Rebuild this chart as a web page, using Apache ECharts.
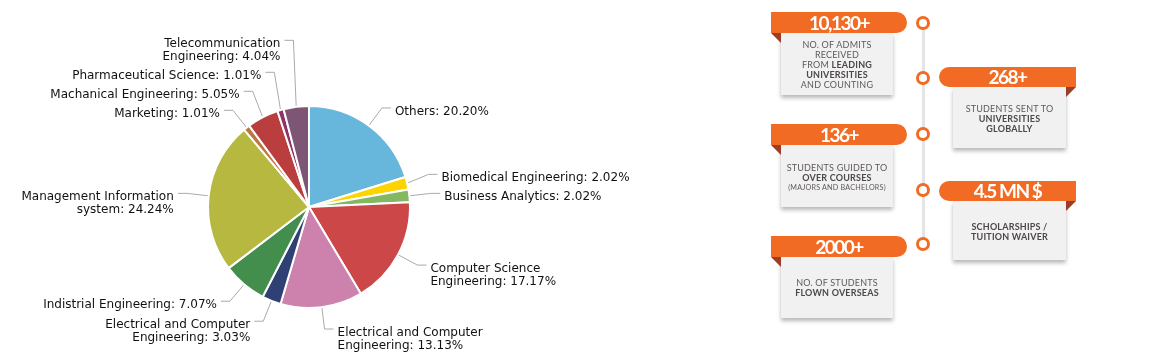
<!DOCTYPE html>
<html>
<head>
<meta charset="utf-8">
<script src="https://cdn.jsdelivr.net/npm/echarts@6/dist/echarts.min.js"></script>
<style>
  html, body { margin: 0; padding: 0; background: #fff; }
  #wrap { position: relative; width: 1155px; height: 363px; overflow: hidden; }
  #chart { position: absolute; left: 0; top: 0; width: 1155px; height: 363px; }
  .line { position: absolute; left: 922px; top: 23px; width: 3px; height: 222px; background: #e4e4e4; }
  .dot { position: absolute; width: 8px; height: 8px; border: 3px solid #f26b24; border-radius: 50%; background: #fff; }
  .banner { position: absolute; height: 21px; background: #f26b24; color: #fff; font-family: Lato, sans-serif; font-weight: 700; font-size: 19px; line-height: 21px; text-align: center; letter-spacing: -1.5px; }
  .banner.l { border-radius: 0 11px 11px 0; }
  .banner.r { border-radius: 11px 0 0 11px; }
  .card { position: absolute; box-sizing: border-box; background: #f1f1f2; box-shadow: 0 3px 4px rgba(0,0,0,0.28); display: flex; flex-direction: column; justify-content: center; align-items: center; font-family: Lato, sans-serif; font-size: 9px; line-height: 10px; color: #5e595a; text-align: center; letter-spacing: 0.2px; }
  .card.p { padding-top: 3px; }
  .card b { color: #4d4849; font-weight: 700; }
  .card .sm { font-size: 7.2px; }
  .fold { position: absolute; width: 0; height: 0; }
  .fold.l { border-top: 10px solid #9e3d27; border-left: 10px solid transparent; }
  .fold.r { border-top: 10px solid #9e3d27; border-right: 10px solid transparent; }
</style>
</head>
<body>
<div id="wrap">
  <div id="chart"></div>

  <div class="line"></div>
  <div class="dot" style="left:916px;top:16px"></div>
  <div class="dot" style="left:916px;top:71px"></div>
  <div class="dot" style="left:916px;top:127px"></div>
  <div class="dot" style="left:916px;top:183px"></div>
  <div class="dot" style="left:916px;top:237px"></div>

  <div class="card" style="left:781px;top:33px;width:112px;height:62px;padding-top:1px">
    <div>NO. OF ADMITS</div><div>RECEIVED</div><div>FROM <b>LEADING</b></div><div><b>UNIVERSITIES</b></div><div>AND COUNTING</div>
  </div>
  <div class="banner l" style="left:771px;top:12px;width:136px">10,130+</div>
  <div class="fold l" style="left:771px;top:33px"></div>

  <div class="card p" style="left:953px;top:87px;width:113px;height:61px">
    <div>STUDENTS SENT TO</div><div><b>UNIVERSITIES</b></div><div><b>GLOBALLY</b></div>
  </div>
  <div class="banner r" style="left:939px;top:67px;width:137px;height:20px;line-height:20px">268+</div>
  <div class="fold r" style="left:1066px;top:87px"></div>

  <div class="card p" style="left:781px;top:145px;width:112px;height:62px">
    <div>STUDENTS GUIDED TO</div><div><b>OVER COURSES</b></div><div class="sm">(MAJORS AND BACHELORS)</div>
  </div>
  <div class="banner l" style="left:771px;top:124px;width:136px">136+</div>
  <div class="fold l" style="left:771px;top:145px"></div>

  <div class="card p" style="left:953px;top:201px;width:113px;height:59px">
    <div><b>SCHOLARSHIPS /</b></div><div><b>TUITION WAIVER</b></div>
  </div>
  <div class="banner r" style="left:939px;top:181px;width:137px;height:20px;line-height:20px">4.5 MN $</div>
  <div class="fold r" style="left:1066px;top:201px"></div>

  <div class="card" style="left:781px;top:257px;width:112px;height:61px">
    <div>NO. OF STUDENTS</div><div><b>FLOWN OVERSEAS</b></div>
  </div>
  <div class="banner l" style="left:771px;top:236px;width:136px">2000+</div>
  <div class="fold l" style="left:771px;top:257px"></div>
</div>
<script>
const categories = [
  "Others",
  "Biomedical Engineering",
  "Business Analytics",
  "Computer Science Engineering",
  "Electrical and Computer Engineering",
  "Electrical and Computer Engineering",
  "Indistrial Engineering",
  "Management Information system",
  "Marketing",
  "Machanical Engineering",
  "Pharmaceutical Science",
  "Telecommunication Engineering"
];
const counts = [20, 2, 2, 17, 13, 3, 7, 24, 1, 5, 1, 4];
const colors = ["#67b7dc", "#fdd400", "#84b761", "#cc4748", "#cd82ad", "#2f4074",
                "#448e4d", "#b7b83f", "#b9783f", "#b93e3d", "#913167", "#7d5676"];

const total = counts.reduce((a, b) => a + b, 0);
const data = categories.map((n, i) => ({ name: n, value: counts[i], itemStyle: { color: colors[i] } }));

function labelText(name, value) {
  const pct = (value / total * 100).toFixed(2) + '%';
  const full = name + ': ' + pct;
  if (full.length > 32) {
    const k = name.lastIndexOf(' ');
    return name.slice(0, k) + '\n' + name.slice(k + 1) + ': ' + pct;
  }
  return full;
}

// pie geometry (layout settings)
const CX = 309, CY = 207, R = 101;
const LEN1 = 22, LEN2 = 9, TEXT_GAP = 4, LH = 13, PADV = 3, TEXT_DY = 4;

// label placement computed from the data: upper labels stack upward, lower labels stack downward
const place = (function () {
  let acc = 0;
  const items = counts.map((v, i) => {
    const a0 = acc / total * 2 * Math.PI; acc += v;
    const a1 = acc / total * 2 * Math.PI;
    const m = (a0 + a1) / 2;
    const s = Math.sin(m), c = Math.cos(m);
    const lines = labelText(categories[i], v).split('\n').length;
    return {
      i, lines,
      right: s >= 0,
      ex: CX + R * s, ey: CY - R * c,
      bx: CX + (R + LEN1) * s,
      y: CY - (R + LEN1) * c
    };
  });
  const top = it => it.y - LH / 2 - PADV;
  const bottom = it => it.y + (it.lines - 0.5) * LH + PADV;
  [true, false].forEach(side => {
    const sideItems = items.filter(it => it.right === side);
    const upper = sideItems.filter(it => it.y < CY).sort((a, b) => b.y - a.y);
    for (let k = 1; k < upper.length; k++) {
      const over = bottom(upper[k]) - top(upper[k - 1]);
      if (over > 0) upper[k].y -= over;
    }
    const lower = sideItems.filter(it => it.y >= CY).sort((a, b) => a.y - b.y);
    for (let k = 1; k < lower.length; k++) {
      const over = bottom(lower[k - 1]) - top(lower[k]);
      if (over > 0) lower[k].y += over;
    }
  });
  return items;
})();

const chart = echarts.init(document.getElementById('chart'), null, { renderer: 'canvas' });
chart.setOption({
  animation: false,
  series: [{
    type: 'pie',
    center: [CX, CY],
    radius: R,
    startAngle: 90,
    clockwise: true,
    avoidLabelOverlap: false,
    data: data,
    itemStyle: { borderColor: '#fff', borderWidth: 2 },
    label: {
      formatter: p => labelText(p.name, p.value),
      fontFamily: 'DejaVu Sans',
      fontSize: 12,
      color: '#111',
      lineHeight: LH
    },
    labelLine: { length: LEN1, length2: LEN2, lineStyle: { color: '#aaa', width: 1 } },
    labelLayout: function (params) {
      const it = place[params.dataIndex];
      const dir = it.right ? 1 : -1;
      const hx = it.bx + dir * LEN2;
      return {
        x: hx + dir * TEXT_GAP,
        y: it.y - LH / 2 + TEXT_DY,
        align: it.right ? 'left' : 'right',
        verticalAlign: 'top',
        labelLinePoints: [[it.ex, it.ey], [it.bx, it.y], [hx, it.y]]
      };
    },
    emphasis: { disabled: true }
  }]
});
</script>
</body>
</html>
